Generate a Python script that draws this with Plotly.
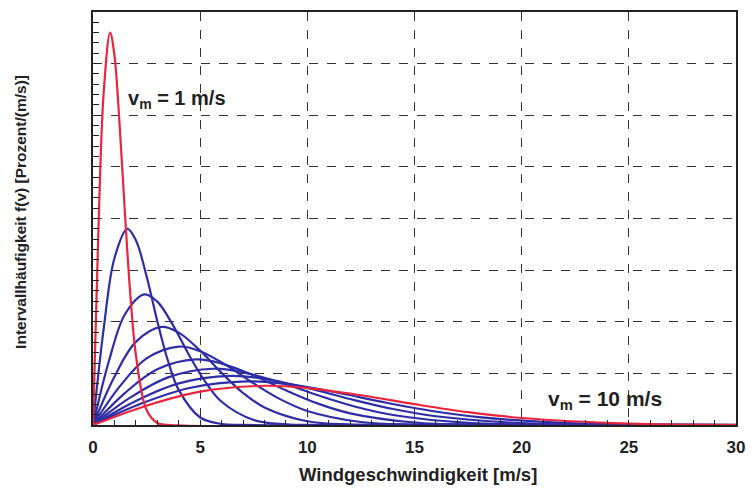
import plotly.graph_objects as go

# Wind speed (m/s) and interval frequency f(v) [percent/(m/s)] for mean speeds vm = 1..10 m/s
v_vm1 = [0, 0.25, 0.5, 0.8, 1.0, 1.25, 1.5, 1.75, 2.0, 2.5, 3.0, 3.5, 30]
f_vm1 = [0, 37.4, 64.5, 76.0, 71.6, 57.6, 40.3, 24.8, 13.6, 2.9, 0.4, 0.04, 0]

v_vm2 = [0, 0.5, 1.0, 1.6, 2.0, 2.5, 3.0, 3.5, 4.0, 5.0, 6.0, 7.0, 30]
f_vm2 = [0, 18.7, 32.3, 38.0, 35.8, 28.8, 20.1, 12.4, 6.8, 1.45, 0.2, 0.02, 0]

v_vm3 = [0, 0.75, 1.5, 2.4, 3.0, 3.75, 4.5, 5.25, 6.0, 7.5, 9.0, 10.5, 30]
f_vm3 = [0, 12.5, 21.5, 25.3, 23.9, 19.2, 13.4, 8.3, 4.5, 0.97, 0.13, 0.01, 0]

v_vm4 = [0, 1, 2, 3.2, 4, 5, 6, 7, 8, 10, 12, 14, 30]
f_vm4 = [0, 9.35, 16.1, 19.0, 17.9, 14.4, 10.1, 6.2, 3.4, 0.73, 0.1, 0.01, 0]

v_vm5 = [0, 1.25, 2.5, 4, 5, 6.25, 7.5, 8.75, 10, 12.5, 15, 17.5, 30]
f_vm5 = [0, 7.48, 12.9, 15.2, 14.3, 11.5, 8.05, 4.96, 2.72, 0.58, 0.08, 0.01, 0]

v_vm6 = [0, 1.5, 3, 4.8, 6, 7.5, 9, 10.5, 12, 15, 18, 21, 30]
f_vm6 = [0, 6.23, 10.8, 12.7, 11.9, 9.59, 6.71, 4.14, 2.26, 0.48, 0.07, 0.01, 0]

v_vm7 = [0, 1.75, 3.5, 5.6, 7, 8.75, 10.5, 12.25, 14, 17.5, 21, 24.5, 30]
f_vm7 = [0, 5.34, 9.22, 10.9, 10.2, 8.22, 5.75, 3.54, 1.94, 0.41, 0.06, 0.01, 0]

v_vm8 = [0, 2, 4, 6.4, 8, 10, 12, 14, 16, 20, 24, 28, 30]
f_vm8 = [0, 4.67, 8.07, 9.50, 8.95, 7.19, 5.03, 3.10, 1.70, 0.36, 0.05, 0.005, 0]

v_vm9 = [0, 2.25, 4.5, 7.2, 9, 11.25, 13.5, 15.75, 18, 22.5, 27, 30]
f_vm9 = [0, 4.15, 7.17, 8.45, 7.96, 6.39, 4.47, 2.76, 1.51, 0.32, 0.04, 0.01]

v_vm10 = [0, 2.5, 5, 8, 10, 12.5, 15, 17.5, 20, 25, 30]
f_vm10 = [0, 3.74, 6.45, 7.60, 7.16, 5.76, 4.03, 2.48, 1.36, 0.29, 0.04]

x_tick_vals = [0, 5, 10, 15, 20, 25, 30]
x_tick_text = ["0", "5", "10", "15", "20", "25", "30"]

x_title = "Windgeschwindigkeit [m/s]"
y_title = "Intervallhäufigkeit f(v) [Prozent/(m/s)]"
label_low = "v<sub>m</sub> = 1 m/s"
label_high = "v<sub>m</sub> = 10 m/s"

BLUE = "#2e2ca6"
RED = "#e8253c"
INK = "#222222"
FONT = "Liberation Sans"

fig = go.Figure()

blue_series = [(v_vm2, f_vm2), (v_vm3, f_vm3), (v_vm4, f_vm4), (v_vm5, f_vm5),
               (v_vm6, f_vm6), (v_vm7, f_vm7), (v_vm8, f_vm8), (v_vm9, f_vm9)]
for xs, ys in blue_series:
    fig.add_trace(go.Scatter(x=xs, y=ys, mode="lines",
                             line=dict(color=BLUE, width=2.2, shape="spline", smoothing=1.0),
                             showlegend=False, hoverinfo="skip"))
for xs, ys in [(v_vm10, f_vm10), (v_vm1, f_vm1)]:
    fig.add_trace(go.Scatter(x=xs, y=ys, mode="lines",
                             line=dict(color=RED, width=2.2, shape="spline", smoothing=1.0),
                             showlegend=False, hoverinfo="skip"))

fig.update_xaxes(range=[0, 30], tickvals=x_tick_vals, ticktext=x_tick_text,
                 showgrid=True, gridcolor="#333333", griddash="dash", gridwidth=1,
                 showline=True, linecolor=INK, linewidth=1.5, mirror=True,
                 ticks="inside", ticklen=5, tickcolor=INK,
                 minor=dict(dtick=1, ticks="inside", ticklen=5, tickcolor=INK, showgrid=False),
                 tickfont=dict(family=FONT, size=17, color=INK, weight="bold"),
                 ticklabelstandoff=6, zeroline=False)
fig.update_yaxes(range=[0, 80], dtick=10, showticklabels=False,
                 showgrid=True, gridcolor="#333333", griddash="dash", gridwidth=1,
                 showline=True, linecolor=INK, linewidth=1.5, mirror=True,
                 ticks="inside", ticklen=6, tickcolor=INK,
                 minor=dict(dtick=2, ticks="inside", ticklen=6, tickcolor=INK, showgrid=False),
                 zeroline=False)

fig.add_annotation(text=y_title, xref="paper", yref="paper", x=-0.112, y=0.516,
                   xanchor="center", yanchor="middle", textangle=-90, showarrow=False,
                   font=dict(family=FONT, size=15.5, color=INK, weight="bold"))
fig.add_annotation(text=x_title, xref="paper", yref="paper", x=0.505, y=-0.12,
                   xanchor="center", yanchor="middle", showarrow=False,
                   font=dict(family=FONT, size=18.5, color=INK, weight="bold"))
fig.add_annotation(text=label_low, xref="x", yref="y", x=1.55, y=63.1,
                   xanchor="left", yanchor="middle", showarrow=False,
                   font=dict(family=FONT, size=20, color=INK, weight="bold"))
fig.add_annotation(text=label_high, xref="x", yref="y", x=21.15, y=4.8,
                   xanchor="left", yanchor="middle", showarrow=False,
                   font=dict(family=FONT, size=21, color=INK, weight="bold"))

fig.update_layout(width=755, height=488, margin=dict(l=93, r=13, t=10, b=63),
                  plot_bgcolor="white", paper_bgcolor="white")

fig.write_html("out.html", config={"displayModeBar": False},
               post_script="document.body.style.margin='0';document.body.style.overflow='hidden';")
